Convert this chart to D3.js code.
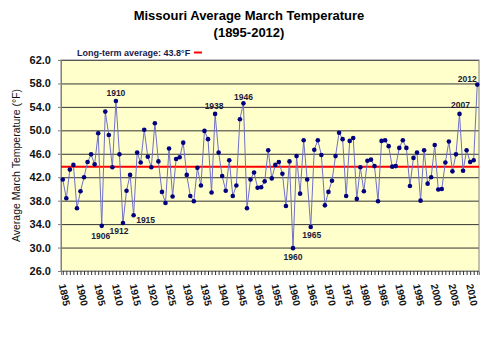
<!DOCTYPE html>
<html>
<head>
<meta charset="utf-8">
<script src="https://cdn.jsdelivr.net/npm/d3@7"></script>
<style>
  body { margin: 0; background: #fff; }
  #chart { width: 500px; height: 340px; }
  text { font-family: "Liberation Sans", Arial, sans-serif; }
</style>
</head>
<body>
<div id="chart"></div>
<script>
const years = d3.range(1895, 2013);
const temps = [
  41.6, 38.4, 43.3, 44.1, 36.7, 39.6, 42.0, 44.6, 45.9, 44.2,
  49.5, 33.7, 53.2, 49.2, 43.7, 55.0, 45.9, 34.2, 39.7, 42.4,
  35.5, 46.2, 44.5, 50.1, 45.5, 43.7, 51.2, 44.7, 39.5, 37.6,
  46.9, 38.7, 45.1, 45.4, 47.9, 42.4, 38.8, 37.9, 43.6, 40.6,
  49.9, 48.5, 39.4, 52.8, 46.2, 42.2, 39.7, 44.9, 38.8, 40.6,
  51.9, 54.6, 36.7, 41.6, 42.8, 40.2, 40.3, 41.3, 46.6, 41.8,
  44.1, 44.6, 42.6, 37.1, 44.7, 29.9, 45.6, 39.2, 48.3, 41.6,
  33.5, 46.7, 48.3, 45.8, 37.2, 39.5, 41.4, 45.6, 49.6, 48.5,
  38.8, 48.2, 48.7, 38.3, 43.7, 39.6, 44.8, 45.0, 43.9, 37.9,
  48.2, 48.3, 47.3, 43.8, 43.9, 47.0, 48.3, 47.0, 40.5, 45.3,
  46.2, 38.0, 46.6, 40.9, 42.0, 47.5, 39.9, 40.0, 44.5, 48.1,
  43.0, 45.9, 52.8, 43.1, 46.6, 44.6, 44.9, 57.8
];
const longTermAvg = 43.8;
const yTicks = [26, 30, 34, 38, 42, 46, 50, 54, 58, 62];
// labelled years and where their label sits relative to the point
const labelYears = [1906, 1910, 1912, 1915, 1938, 1946, 1960, 1965, 2007, 2012];
const labelOffsets = [[-1, 10], [0, -8], [-4, 8], [12, 5], [-1, -8], [0, -6], [0, 9], [1, 8], [1, -9], [-10, -6]];

const data = years.map((y, i) => ({year: y, temp: temps[i]}));

const margin = {top: 60, right: 21, bottom: 69, left: 61};
const width = 500 - margin.left - margin.right;
const height = 340 - margin.top - margin.bottom;

const svg = d3.select("#chart").append("svg")
  .attr("width", 500)
  .attr("height", 340);

// title
svg.append("text")
  .attr("x", 249).attr("y", 20)
  .attr("text-anchor", "middle")
  .style("font-size", "13px").style("font-weight", "bold")
  .text("Missouri Average March Temperature");
svg.append("text")
  .attr("x", 249).attr("y", 37)
  .attr("text-anchor", "middle")
  .style("font-size", "13px").style("font-weight", "bold")
  .text("(1895-2012)");

// legend
svg.append("text")
  .attr("x", 77).attr("y", 56)
  .style("font-size", "9px").style("font-weight", "bold").attr("fill", "#1a1a4a")
  .text("Long-term average: 43.8°F");
svg.append("line")
  .attr("x1", 194).attr("x2", 202).attr("y1", 52.5).attr("y2", 52.5)
  .attr("stroke", "red").attr("stroke-width", 2);

const chart = svg.append("g")
  .attr("transform", "translate(" + margin.left + "," + margin.top + ")");

const x = d3.scalePoint().domain(years).range([0, width]).padding(0.5);
const y = d3.scaleLinear().domain([26, 62]).range([height, 0]);

chart.append("rect")
  .attr("width", width).attr("height", height)
  .attr("fill", "#ffffcc");

// gridlines
chart.append("g")
  .call(d3.axisLeft(y).tickValues(yTicks).tickSize(-width).tickFormat(""))
  .call(g => g.select(".domain").remove())
  .selectAll("line").attr("stroke", "#333").attr("stroke-width", 1);

chart.append("rect")
  .attr("width", width).attr("height", height)
  .attr("fill", "none").attr("stroke", "#808080");

// y axis
chart.append("g").attr("id", "y-axis")
  .call(d3.axisLeft(y).tickValues(yTicks).tickSize(3).tickPadding(7).tickFormat(d3.format(".1f")))
  .call(g => g.select(".domain").attr("stroke", "#808080"))
  .call(g => g.selectAll("line").attr("stroke", "#808080"))
  .selectAll("text")
    .style("font-size", "11px").style("font-weight", "bold").attr("fill", "#111");

// x axis: one tick per year, a label every five
const xaxis = d3.axisBottom(x).tickSize(4).tickFormat(d => d % 5 === 0 ? d : "");
chart.append("g").attr("id", "x-axis")
  .attr("transform", "translate(0," + height + ")")
  .call(xaxis)
  .call(g => g.select(".domain").attr("stroke", "#808080"))
  .call(g => g.selectAll("line").attr("stroke", "#333"))
  .selectAll("text")
    .attr("x", 0).attr("y", 0).attr("dy", "0.35em")
    .attr("transform", "translate(-1,13) rotate(78)")
    .style("text-anchor", "start")
    .style("font-size", "10px").style("font-weight", "bold").attr("fill", "#111");

// y axis title
svg.append("text")
  .attr("transform", "translate(20," + (margin.top + height / 2) + ") rotate(-90)")
  .attr("text-anchor", "middle")
  .style("font-size", "10.5px").attr("fill", "#111")
  .text("Average March Temperature (°F)");

// long term average
chart.append("line")
  .attr("x1", 0).attr("x2", width)
  .attr("y1", y(longTermAvg)).attr("y2", y(longTermAvg))
  .attr("stroke", "red").attr("stroke-width", 2);

const line = d3.line().x(d => x(d.year)).y(d => y(d.temp));
chart.append("path")
  .datum(data)
  .attr("fill", "none")
  .attr("stroke", "#7070c8")
  .attr("stroke-width", 1)
  .attr("d", line);

chart.append("g").selectAll("circle")
  .data(data)
  .join("circle")
  .attr("cx", d => x(d.year))
  .attr("cy", d => y(d.temp))
  .attr("r", 2.3)
  .attr("fill", "#000080");

chart.append("g").selectAll("text")
  .data(labelYears)
  .join("text")
  .attr("x", (d, i) => x(d) + labelOffsets[i][0])
  .attr("y", (d, i) => y(temps[years.indexOf(d)]) + labelOffsets[i][1])
  .attr("dy", "0.35em")
  .attr("text-anchor", "middle")
  .style("font-size", "8.5px").style("font-weight", "bold")
  .attr("fill", "#1a1a3a")
  .text(d => d);
</script>
</body>
</html>
